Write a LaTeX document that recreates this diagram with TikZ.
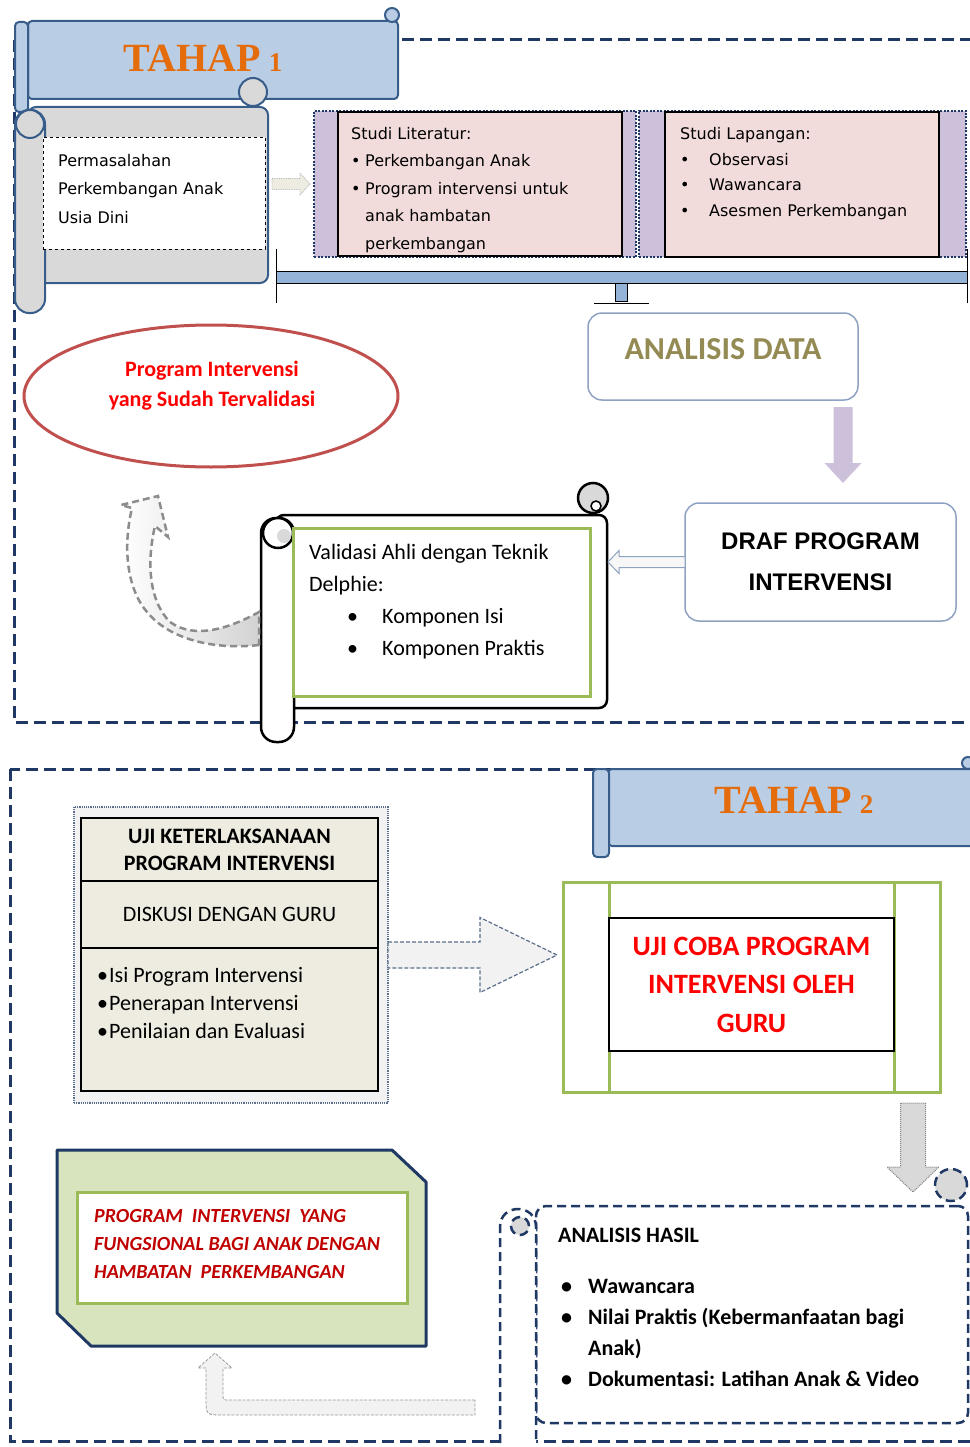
\documentclass[tikz,border=0pt]{standalone}
\usepackage{fontspec}
\setmainfont{Carlito}
\newfontfamily\verdana{DejaVu Sans}
\newfontfamily\arialf{Liberation Sans}
\newfontfamily\timesf{Liberation Serif}
\usetikzlibrary{positioning, calc, shapes.geometric}
\definecolor{framenavy}{HTML}{1F3864}
\definecolor{bannerfill}{HTML}{B9CDE5}
\definecolor{bannerline}{HTML}{385D8A}
\definecolor{tahaporange}{HTML}{E46C0A}
\definecolor{scrollgray}{HTML}{D9D9D9}
\definecolor{lavender}{HTML}{CCC0DA}
\definecolor{pinkfill}{HTML}{F2DCDB}
\definecolor{barblue}{HTML}{95B3D7}
\definecolor{olivetext}{HTML}{948A54}
\definecolor{boxline}{HTML}{8EA2C1}
\definecolor{ellred}{HTML}{C0504D}
\definecolor{brightred}{HTML}{FF0000}
\definecolor{leafgreen}{HTML}{9BBB59}
\definecolor{beige}{HTML}{EEECE1}
\definecolor{palegreen}{HTML}{D7E4BD}
\definecolor{darkred}{HTML}{C00000}
\definecolor{arrowgray}{HTML}{F2F2F2}
\definecolor{arrowline}{HTML}{5B6F8C}
\tikzset{
  frame/.style={draw=framenavy, line width=3pt, dash pattern=on 12pt off 6pt},
  wh/.style 2 args={minimum width=#1pt, minimum height=#2pt, inner sep=0pt, outer sep=0pt},
  banner/.style={draw=bannerline, fill=bannerfill, line width=2pt, rounded corners=4pt},
  grayscroll/.style={draw=bannerline, fill=scrollgray, line width=2pt},
  blackscroll/.style={draw=black, fill=white, line width=2.5pt},
  dotgroup/.style={draw=framenavy, fill=lavender, line width=2pt, dash pattern=on 2pt off 1.5pt},
  pinkbox/.style={draw=black, fill=pinkfill, line width=1.2pt},
  roundbox/.style={draw=boxline, fill=white, line width=1.5pt, rounded corners=14pt},
  greenbox/.style={draw=leafgreen, fill=white, line width=3pt},
  beigebox/.style={draw=black, fill=beige, line width=1.5pt},
  hasildash/.style={draw=framenavy, line width=2.5pt, dash pattern=on 9pt off 5pt},
  tahaptxt/.style={font=\timesf\bfseries\fontsize{40}{40}\selectfont, text=tahaporange},
  txt/.style={anchor=north west, inner sep=0pt, align=left},
}
\newcommand{\itm}[1]{\makebox[#1][l]{\textbullet}}
\newcommand{\oldnum}[1]{{\fontsize{27}{27}\selectfont #1}}
% block arrow: [style]{tail}{tip}{half shaft}{half head}{head length}
\newcommand{\blkarrow}[6][]{%
  \coordinate (ba-a) at #2;
  \coordinate (ba-b) at #3;
  \coordinate (ba-h) at ($(ba-b)!#6!(ba-a)$);
  \draw[#1] ($(ba-a)!#4!90:(ba-b)$) -- ($(ba-h)!#4!90:(ba-b)$) -- ($(ba-h)!#5!90:(ba-b)$)
    -- (ba-b) -- ($(ba-h)!#5!-90:(ba-b)$) -- ($(ba-h)!#4!-90:(ba-b)$) -- ($(ba-a)!#4!-90:(ba-b)$) -- cycle;}

\begin{document}
\begin{tikzpicture}[x=1pt, y=-1pt]
\useasboundingbox (0,0) rectangle (969,1447);

% frames of the two stages
\draw[frame] (14,40) rectangle (990,722);
\draw[frame] (10,769) rectangle (990,1441);

% TAHAP 1
\node[banner, wh={370}{78}] (tahap1) at (213,60) {};
\draw[banner] (15,22) rectangle (28,112);
\draw[banner] (392,15) circle[radius=7pt];
\node[tahaptxt] (tahap1txt) at ([shift={(-10,-1.5)}]tahap1.center) {TAHAP\hspace{8pt}\oldnum{1}};

\node[grayscroll, rounded corners=8pt, wh={240}{176}] (gbody) at (148,195) {};
\draw[grayscroll] (253,92) circle[radius=14pt];
\node[grayscroll, rounded corners=14pt, wh={30}{203}] (groll) at (30,211.5) {};
\draw[grayscroll] (30,124) circle[radius=14pt];
\node[draw, dashed, fill=white, line width=0.8pt, wh={222}{112}] (perm) at (154,193) {};
\node[txt, font=\verdana\fontsize{16}{28.5}\selectfont] (permtxt)
  at ([shift={(15,17)}]perm.north west) {Permasalahan\\Perkembangan Anak\\Usia Dini};

\node[dotgroup, wh={322}{146}] (litgrp) at (475,184) {};
\node[pinkbox, wh={284}{144}] (lit) at (480,184) {};
\begin{scope}
  \clip (lit.south west) rectangle (lit.north east);
  \node[txt, font=\verdana\fontsize{16}{27.5}\selectfont] (littxt) at ([shift={(13,15)}]lit.north west)
    {Studi Literatur:\\\itm{14pt}Perkembangan Anak\\\itm{14pt}Program intervensi untuk\\
     \hspace*{14pt}anak hambatan\\\hspace*{14pt}perkembangan};
\end{scope}
\node[dotgroup, wh={327}{146}] (lapgrp) at (802.5,184) {};
\node[pinkbox, wh={274}{145}] (lap) at (802,184.5) {};
\node[txt, font=\verdana\fontsize{16}{25.7}\selectfont] (laptxt) at ([shift={(15,15)}]lap.north west)
  {Studi Lapangan:\\\itm{29pt}Observasi\\\itm{29pt}Wawancara\\\itm{29pt}Asesmen Perkembangan};

\node[roundbox, wh={270}{87}] (adata) at (723,356.5) {};
\node[font=\bfseries\fontsize{32}{32}\selectfont, text=olivetext] (adatatxt)
  at ([shift={(0,-7)}]adata.center) {ANALISIS DATA};

% bracket under the two studies
\coordinate (barl) at ($(litgrp.south west)+(-38,20)$);
\coordinate (barr) at ($(lapgrp.south east)+(1,20)$);
\coordinate (stem) at ($(adata.north)+(-102,-30)$);
\draw[fill=barblue, line width=0.8pt] ($(barl)+(0,-6)$) rectangle ($(barr)+(0,6)$);
\draw[line width=1pt] ($(barl)+(0,-28)$) -- ($(barl)+(0,26)$);
\draw[line width=1pt] ($(barr)+(0,-28)$) -- ($(barr)+(0,26)$);
\draw[fill=barblue, line width=0.8pt] ($(stem)+(-6,0)$) rectangle ($(stem)+(6,18)$);
\draw[line width=1pt] ($(stem)+(-27,20)$) -- ($(stem)+(28,20)$);

\node[ellipse, draw=ellred, line width=3pt, fill=white, wh={374}{142}] (ell) at (211,396) {};
\node[font=\bfseries\fontsize{22}{30}\selectfont, text=brightred, align=center] (elltxt)
  at ([shift={(1,-10)}]ell.center) {Program Intervensi\\yang Sudah Tervalidasi};

\node[roundbox, wh={271}{118}, align=center, font=\arialf\bfseries\fontsize{24}{41}\selectfont] (draf)
  at (820.5,562) {DRAF PROGRAM\\INTERVENSI};

\node[blackscroll, rounded corners=8pt, wh={331}{193}] (vscroll) at (441.5,611.5) {};
\draw[blackscroll, fill=scrollgray] (593,498) circle[radius=15pt];
\draw[black, line width=1.5pt, fill=white] (596,506) circle[radius=5pt];
\node[blackscroll, rounded corners=15pt, wh={33}{224}] (vroll) at (277.5,630) {};
\draw[blackscroll] (278,533) circle[radius=15pt];
\fill[scrollgray] (284,536) circle[radius=7pt];
\node[greenbox, wh={297}{168}] (valid) at (441.5,612) {};
\node[txt, font=\fontsize{22}{32}\selectfont] (validtxt) at ([shift={(16,16)}]valid.north west)
  {Validasi Ahli dengan Teknik\\Delphie:\\\hspace*{38pt}\itm{35pt}Komponen Isi\\\hspace*{38pt}\itm{35pt}Komponen Praktis};

% arrows of stage 1
\blkarrow[fill=beige, draw=gray!60, densely dotted, line width=0.8pt]
  {($(perm.east |- litgrp.west)+(7,0)$)}{($(litgrp.west)+(-4,0)$)}{5.5pt}{11pt}{10pt}
\blkarrow[fill=lavender, draw=none]
  {($(adata.south east)+(-15,7)$)}{($(draf.north east)+(-113,-20)$)}{9.5pt}{18.5pt}{20pt}
\blkarrow[fill=arrowgray!60!white, draw=boxline, line width=1pt]
  {(draf.west)}{($(vscroll.east |- draf.west)+(1,0)$)}{5.5pt}{11.5pt}{11pt}
\begin{scope}[shift={(vroll.west)}]
  \draw[gray!90, line width=2.5pt, dash pattern=on 7pt off 4pt, left color=white, middle color=white, right color=gray!35]
    (-2,15) .. controls (-46,20) and (-91,10) .. (-114,-18) .. controls (-133,-40) and (-139,-80) .. (-129,-122)
    -- (-140,-125) -- (-103,-134) -- (-93,-93) -- (-106,-104)
    .. controls (-114,-70) and (-113,-30) .. (-91,-8) .. controls (-66,10) and (-31,-2) .. (-2,-18) -- cycle;
\end{scope}

% TAHAP 2
\node[banner, wh={382}{77}] (tahap2) at (799,807.5) {};
\draw[banner] (593,769) rectangle (609,857);
\draw[banner] (968,763) circle[radius=6pt];
\node[tahaptxt] (tahap2txt) at ([shift={(-5,-7.5)}]tahap2.center) {TAHAP\hspace{8pt}\oldnum{2}};

\node[draw=arrowline, densely dotted, line width=1.2pt, fill=arrowgray, wh={314}{296}] (uji) at (231,955) {};
\node[beigebox, wh={297}{63}, align=center, font=\bfseries\fontsize{22}{27}\selectfont] (ujihead)
  at (229.5,849.5) {UJI KETERLAKSANAAN\\PROGRAM INTERVENSI};
\node[beigebox, wh={297}{67}, font=\fontsize{22}{26}\selectfont] (diskusi) at (229.5,914.5) {DISKUSI DENGAN GURU};
\node[beigebox, wh={297}{143}] (ujilist) at (229.5,1019.5) {};
\node[txt, font=\fontsize{22}{28}\selectfont] (ujitxt) at ([shift={(16,19)}]ujilist.north west)
  {\itm{12pt}Isi Program Intervensi\\\itm{12pt}Penerapan Intervensi\\\itm{12pt}Penilaian dan Evaluasi};

\node[greenbox, wh={377}{210}] (coba) at (751.5,987) {};
\draw[leafgreen, line width=3pt] ([xshift=46pt]coba.north west) -- ([xshift=46pt]coba.south west);
\draw[leafgreen, line width=3pt] ([xshift=-46pt]coba.north east) -- ([xshift=-46pt]coba.south east);
\node[draw=black, line width=1.2pt, fill=white, wh={285}{133}, align=center,
  font=\bfseries\fontsize{28}{38.5}\selectfont, text=brightred] (cobain)
  at (751.5,984.5) {UJI COBA PROGRAM\\INTERVENSI OLEH\\GURU};

% snipped card
\node[wh={369}{196}] (fshape) at (241.5,1248) {};
\draw[draw=framenavy, line width=3pt, fill=palegreen, line join=round]
  (fshape.north west) -- ([xshift=-34pt]fshape.north east) -- ([yshift=-32pt]fshape.north east)
  -- (fshape.south east) -- ([xshift=34pt]fshape.south west) -- ([yshift=33pt]fshape.south west) -- cycle;
\node[greenbox, wh={330}{111}] (fungsi) at (242,1247.5) {};
\node[txt, font=\bfseries\itshape\fontsize{20}{28}\selectfont, text=darkred] (fungsitxt)
  at ([shift={(17,17)}]fungsi.north west)
  {PROGRAM~ INTERVENSI~ YANG\\FUNGSIONAL BAGI ANAK DENGAN\\HAMBATAN~ PERKEMBANGAN};

\node[hasildash, rounded corners=10pt, fill=white, wh={432}{217}] (hasil) at (752,1314.5) {};
\begin{scope}[shift={(hasil.north west)}]
  \draw[hasildash, fill=white] (-36,237) -- (-36,21) .. controls (-36,-3) and (0,-3) .. (0,21) -- (0,237);
  \draw[hasildash, fill=scrollgray] (-16,20) circle[radius=9pt];
\end{scope}
\draw[hasildash, fill=scrollgray] ([shift={(-17,-21)}]hasil.north east) circle[radius=16pt];
\node[txt, font=\bfseries\fontsize{22}{22}\selectfont] (hasilhead) at ([shift={(22,22)}]hasil.north west) {ANALISIS HASIL};
\node[txt, font=\bfseries\fontsize{22}{31}\selectfont] (hasiltxt) at ([shift={(23,73)}]hasil.north west)
  {\hspace*{2pt}\itm{27pt}Wawancara\\\hspace*{2pt}\itm{27pt}Nilai Praktis (Kebermanfaatan bagi\\
   \hspace*{29pt}Anak)\\\hspace*{2pt}\itm{27pt}Dokumentasi: Latihan Anak \& Video};

% arrows of stage 2
\blkarrow[fill=arrowgray, draw=arrowline, dash pattern=on 4pt off 2pt, line width=1.2pt]
  {(uji.east)}{($(coba.west |- uji.east)+(-6,0)$)}{13pt}{37.5pt}{77pt}
\blkarrow[fill=scrollgray, draw=gray, densely dotted, line width=1pt]
  {($(coba.south east)+(-27,11)$)}{($(hasil.north east)+(-55,-14)$)}{12.5pt}{26pt}{25pt}
\begin{scope}[shift={(fshape.south)}]
  \draw[fill=arrowgray, draw=gray!80, dash pattern=on 3pt off 1.5pt, line width=0.8pt]
    (233.5,54) -- (-12.5,54) .. controls (-18.5,54) .. (-18.5,48) -- (-18.5,22) -- (-9.5,22)
    -- (-26.5,7) -- (-43.5,22) -- (-35.5,22) -- (-35.5,52) .. controls (-35.5,69) .. (-18.5,69)
    -- (233.5,69) -- cycle;
\end{scope}
\end{tikzpicture}
\end{document}
